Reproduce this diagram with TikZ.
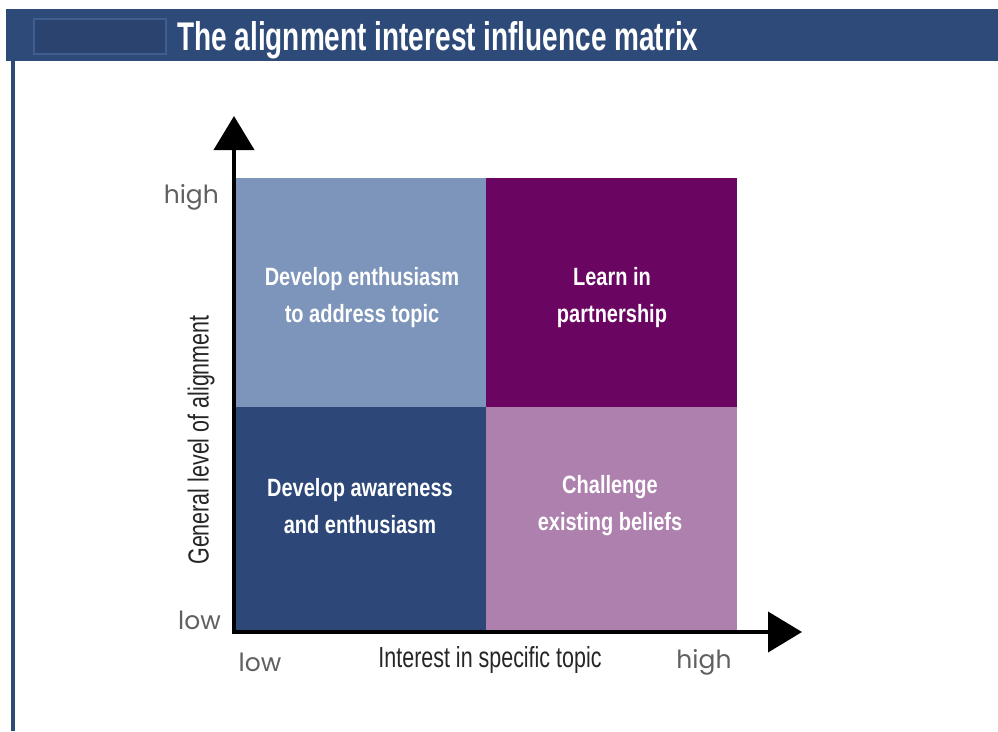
\documentclass[tikz,border=0pt]{standalone}
\usepackage{fontspec}
\setmainfont{Liberation Sans}
\newfontfamily\condfont[FakeStretch=0.74]{Liberation Sans}
\newfontfamily\qfont[FakeStretch=0.8]{Liberation Sans}
\newfontfamily\ttlfont[FakeStretch=0.7]{Liberation Sans}
\newfontfamily\geofont{Poppins}
\usetikzlibrary{arrows.meta}
\definecolor{hdr}{HTML}{2D4A79}
\definecolor{hdrbox}{HTML}{2A436F}
\definecolor{hdrboxline}{HTML}{3F5D8F}
\definecolor{tlc}{HTML}{7D95BA}
\definecolor{trc}{HTML}{6B0562}
\definecolor{blc}{HTML}{2D4878}
\definecolor{brc}{HTML}{AD80AE}
\definecolor{lbl}{HTML}{606060}
\tikzset{
  quad/.style={rectangle, inner sep=0pt, outer sep=0pt, draw=none},
  qtext/.style={text=white, align=center, font=\qfont\bfseries\fontsize{25}{37}\selectfont},
  axlbl/.style={text=lbl, inner sep=0pt, font=\geofont\fontsize{25}{28}\selectfont},
  axtitle/.style={text=black!85, inner sep=0pt, font=\condfont\fontsize{29}{32}\selectfont},
  axisline/.style={line width=4pt, -{Triangle[width=40pt,length=34pt]}}
}
\begin{document}
\begin{tikzpicture}[x=1pt,y=-1pt]
\useasboundingbox (0,0) rectangle (998,731);
\fill[white] (0,0) rectangle (998,731);
% header
\fill[hdr] (6,9) rectangle (998,61);
\filldraw[fill=hdrbox, draw=hdrboxline, line width=2pt] (34,19) rectangle (166,54);
\node[anchor=base west, text=white, inner sep=0pt, font=\ttlfont\bfseries\fontsize{40}{44}\selectfont] (title) at (177,50) {The alignment interest influence matrix};
% left border
\fill[hdr] (11,61) rectangle (15,731);
% quadrants
\node[quad, fill=tlc, minimum width=250pt, minimum height=229pt] (tl) at (361,292.5) {};
\node[quad, fill=trc, minimum width=251pt, minimum height=229pt] (tr) at (611.5,292.5) {};
\node[quad, fill=blc, minimum width=250pt, minimum height=225pt] (bl) at (361,519.5) {};
\node[quad, fill=brc, minimum width=251pt, minimum height=225pt] (br) at (611.5,519.5) {};
\node[qtext] (tlt) at (362,298) {Develop enthusiasm\\to address topic};
\node[qtext] (trt) at (612,298) {Learn in\\partnership};
\node[qtext] (blt) at (360,506) {Develop awareness\\and enthusiasm};
\node[qtext] (brt) at (610,506) {Challenge\\existing beliefs};
% axes
\coordinate (origin) at (234,632);
\coordinate (ytip) at (234,116);
\coordinate (xtip) at (802,632);
\draw[axisline] ([yshift=2pt]origin) -- (ytip);
\draw[axisline] ([xshift=-2pt]origin) -- (xtip);
% axis labels
\node[axlbl, anchor=east] (yhigh) at (219,197) {high};
\node[axlbl, anchor=east] (ylow) at (221,620) {low};
\node[axlbl] (xlow) at (260,662) {low};
\node[axlbl] (xhigh) at (704,662) {high};
\node[axtitle] (xtitle) at (490,660) {Interest in specific topic};
\node[axtitle, rotate=90] (ytitle) at (201,440) {General level of alignment};
\end{tikzpicture}
\end{document}
